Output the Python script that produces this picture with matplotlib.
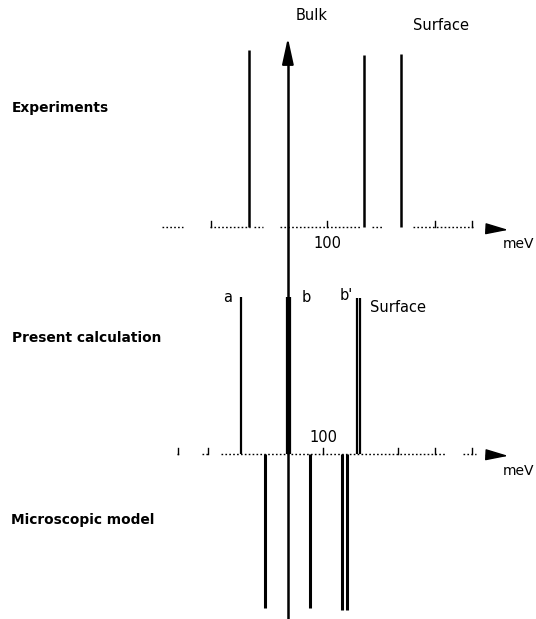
import numpy as np
import matplotlib.pyplot as plt

# energies in meV, line heights in arbitrary intensity units
exp_energy = [79.2, 110.3, 120.3]
exp_height = [177, 172, 173]

calc_energy = [77.0, 89.4, 90.3, 108.3, 109.1]
calc_height = [157, 157, 157, 156, 156]

model_energy = [83.5, 95.7, 104.3, 105.7]
model_depth = [154, 154, 156, 156]

bulk_energy = 89.7

upper_ticks = [69, 100.3, 129.5, 139.5]
lower_ticks = [60, 68, 99.2, 119.5, 129.5, 139.5]

# dotted pieces of the two energy axes (meV)
upper_axis = [(55.7, 61.4), (68.7, 79.5), (80.5, 83.0), (87.5, 109.5), (112.5, 115.5), (123.5, 140.0)]
lower_axis = [(59.8, 60.2), (66.5, 68.5), (71.5, 132.5), (137.0, 140.5)]

# layout: pixel <-> meV
X0, PX = 326.0, 3.7
def e(px):
    return 100 + (px - X0) / PX

Y_UP, Y_LO = 227, 454

fig = plt.figure(figsize=(5.36, 6.19), dpi=100)
ax = fig.add_axes([0, 0, 1, 1])
ax.set_xlim(e(0), e(536))
ax.set_ylim(619, 0)
ax.axis('off')

# experiments
ax.vlines(exp_energy, Y_UP, Y_UP - np.array(exp_height), color='black', lw=1.8)
# present calculation
ax.vlines(calc_energy, Y_LO, Y_LO - np.array(calc_height), color='black', lw=1.6)
# microscopic model (drawn downward)
ax.vlines(model_energy, Y_LO, Y_LO + np.array(model_depth), color='black', lw=2.2)

# bulk arrow
ax.plot([bulk_energy, bulk_energy], [618, 55], color='black', lw=1.8)
ax.annotate('', xy=(bulk_energy, 35), xytext=(bulk_energy, 62),
            arrowprops=dict(arrowstyle='-|>,head_length=1.6,head_width=0.35',
                            color='black', lw=1.5))

# energy axes
for segs, y in [(upper_axis, Y_UP), (lower_axis, Y_LO)]:
    for a, b in segs:
        ax.plot([a, b], [y, y], color='black', lw=1.0, ls=(0, (1.2, 1.6)))
for t in upper_ticks:
    ax.plot([t, t], [Y_UP, Y_UP - 6], color='black', lw=1.0)
for t in lower_ticks:
    ax.plot([t, t], [Y_LO, Y_LO - 6], color='black', lw=1.0)
for y in [Y_UP + 2, Y_LO + 1]:
    ax.plot([e(486), e(493)], [y, y], color='black', lw=1.0)
    ax.annotate('', xy=(e(511), y + 1), xytext=(e(491), y),
                arrowprops=dict(arrowstyle='-|>,head_length=1.4,head_width=0.35',
                                color='black', lw=1.0))

txt = dict(ha='center', va='center', fontsize=10.5)
ax.text(e(534), 244, 'meV', ha='right', va='center', fontsize=10)
ax.text(e(534), 471, 'meV', ha='right', va='center', fontsize=10)
ax.text(e(327), 243, '100', **txt)
ax.text(e(323), 438, '100', **txt)
ax.text(e(312), 16, 'Bulk', **txt)
ax.text(e(441), 25, 'Surface', **txt)
ax.text(e(228), 297, 'a', **txt)
ax.text(e(306), 297, 'b', **txt)
ax.text(e(346), 296, "b'", **txt)
ax.text(e(398), 308, 'Surface', **txt)

lab = dict(ha='left', va='center', fontsize=9.9, fontweight='bold')
ax.text(e(12), 108, 'Experiments', **lab)
ax.text(e(12), 338, 'Present calculation', **lab)
ax.text(e(11), 520, 'Microscopic model', **lab)

fig.savefig('out.png', dpi=100)
